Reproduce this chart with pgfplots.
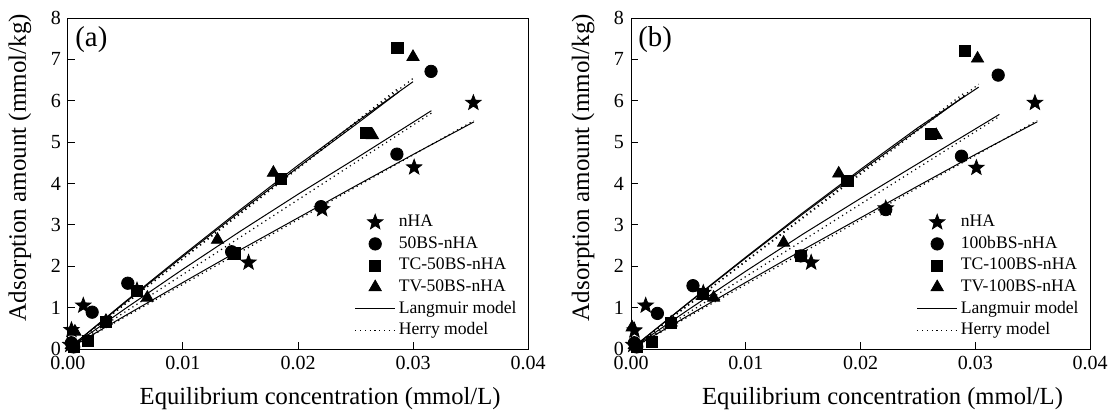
\documentclass[border=0pt]{standalone}
\usepackage{fontspec}
\setmainfont{Liberation Serif}
\usepackage{pgfplots}
\pgfplotsset{compat=1.18}

\pgfdeclareplotmark{fstar}{%
  \pgfpathmoveto{\pgfpointpolar{90}{\pgfplotmarksize}}%
  \pgfpathlineto{\pgfpointpolar{126}{0.42\pgfplotmarksize}}%
  \pgfpathlineto{\pgfpointpolar{162}{\pgfplotmarksize}}%
  \pgfpathlineto{\pgfpointpolar{198}{0.42\pgfplotmarksize}}%
  \pgfpathlineto{\pgfpointpolar{234}{\pgfplotmarksize}}%
  \pgfpathlineto{\pgfpointpolar{270}{0.42\pgfplotmarksize}}%
  \pgfpathlineto{\pgfpointpolar{306}{\pgfplotmarksize}}%
  \pgfpathlineto{\pgfpointpolar{342}{0.42\pgfplotmarksize}}%
  \pgfpathlineto{\pgfpointpolar{18}{\pgfplotmarksize}}%
  \pgfpathlineto{\pgfpointpolar{54}{0.42\pgfplotmarksize}}%
  \pgfpathclose
  \pgfusepathqfillstroke
}

\pgfplotsset{
  panel/.style={
    scale only axis,
    height=165.5pt,
    xmin=0, xmax=0.04, ymin=0, ymax=8,
    xtick={0,0.01,0.02,0.03,0.04},
    ytick={0,1,2,3,4,5,6,7,8},
    scaled x ticks=false,
    xticklabel style={/pgf/number format/.cd, fixed, fixed zerofill, precision=2},
    /pgf/number format/assume math mode=true,
    tick label style={font=\fontsize{10}{11}\selectfont},
    tick align=inside,
    xtick pos=bottom, ytick pos=left,
    major tick length=3.5pt,
    axis line style={line width=0.5pt},
    every tick/.style={black, line width=0.5pt},
    every axis y label/.style={at={(axis description cs:-0.1043,0.548)}, rotate=90, anchor=center, font=\fontsize{12.5}{14}\selectfont},
    every axis x label/.style={at={(axis description cs:0.548,-0.169)}, anchor=base, font=\fontsize{12.3}{14}\selectfont},
    xlabel={Equilibrium concentration (mmol/L)},
    ylabel={Adsorption amount (mmol/kg)},
    clip=false,
    legend image code/.code={\draw[mark repeat=2,mark phase=2,#1] plot coordinates {(0pt,0pt) (10pt,0pt) (20pt,0pt)};},
    legend style={at={(rel axis cs:1,0)}, anchor=south east, xshift=-5.5pt, yshift=5pt,
      draw=none, fill=none, inner sep=0pt, row sep=2.5pt, column sep=1.5pt,
      font=\fontsize{8.8}{10}\selectfont,
      nodes={inner sep=0pt, text height=6.3pt, text depth=2pt}},
    legend cell align=left,
  },
  pts/.style={only marks, black, fill=black},
  sstar/.style={pts, mark=fstar, mark size=4pt},
  scirc/.style={pts, mark=*, mark size=3.1pt},
  ssq/.style={pts, mark=square*, mark size=2.8pt},
  stri/.style={pts, mark=triangle*, mark size=3.5pt},
  lang/.style={black, line width=0.5pt, no marks},
  henry/.style={black, line width=0.6pt, no marks, dash pattern=on 0.6pt off 1.8pt},
}

\begin{document}
\begin{tikzpicture}
% ---------------- panel (a)
\begin{axis}[panel, width=230pt]
\addplot[sstar] coordinates {(0.0002,0.1) (0.0003,0.46) (0.00133,1.05) (0.006,1.42) (0.0157,2.09) (0.0221,3.38) (0.0301,4.39) (0.03525,5.95)};
\addlegendentry{nHA}
\addplot[scirc] coordinates {(0.0003,0.15) (0.0005,0.05) (0.0021,0.89) (0.0052,1.59) (0.01423,2.35) (0.022,3.44) (0.0286,4.71) (0.03157,6.71)};
\addlegendentry{50BS-nHA}
\addplot[ssq] coordinates {(0.0005,0.05) (0.0017,0.2) (0.0033,0.66) (0.006,1.40) (0.01447,2.31) (0.01852,4.11) (0.02588,5.23) (0.02864,7.28)};
\addlegendentry{TC-50BS-nHA}
\addplot[stri] coordinates {(0.0003,0.1) (0.0006,0.42) (0.0033,0.68) (0.0069,1.24) (0.013,2.64) (0.01786,4.26) (0.02647,5.17) (0.03,7.06)};
\addlegendentry{TV-50BS-nHA}
\addplot[lang] coordinates {(0,0) (0.005,1.15) (0.01,2.27) (0.015,3.37) (0.02,4.44) (0.025,5.47) (0.03,6.46)};
\addlegendentry{Langmuir model}
\addplot[lang, forget plot] coordinates {(0,0) (0.005,1.13) (0.01,2.24) (0.015,3.33) (0.02,4.39) (0.025,5.42) (0.0288,6.22)};
\addplot[lang, forget plot] coordinates {(0,0) (0.005,0.98) (0.01,1.93) (0.015,2.85) (0.02,3.74) (0.025,4.60) (0.0316,5.76)};
\addplot[lang, forget plot] coordinates {(0,0) (0.005,0.81) (0.01,1.61) (0.015,2.40) (0.02,3.17) (0.025,3.94) (0.03,4.70) (0.0353,5.49)};
\addplot[henry] coordinates {(0,0) (0.03,6.54)};
\addlegendentry{Herry model}
\addplot[henry, forget plot] coordinates {(0,0) (0.0288,6.32)};
\addplot[henry, forget plot] coordinates {(0,0) (0.0316,5.70)};
\addplot[henry, forget plot] coordinates {(0,0) (0.0353,5.52)};
\node[anchor=base west, inner sep=0pt, font=\fontsize{14.4}{16}\selectfont] at (axis description cs:0.0152,0.9136) {(a)};
\end{axis}
% ---------------- panel (b)
\begin{axis}[panel, width=229.5pt, at={(281.5pt,0pt)}]
\addplot[sstar] coordinates {(0.0002,0.1) (0.0003,0.45) (0.00128,1.05) (0.0063,1.36) (0.0157,2.09) (0.0222,3.4) (0.0301,4.38) (0.0352,5.95)};
\addlegendentry{nHA}
\addplot[scirc] coordinates {(0.0003,0.15) (0.0005,0.05) (0.0023,0.86) (0.0054,1.53) (0.0148,2.25) (0.0222,3.37) (0.0288,4.66) (0.0320,6.62)};
\addlegendentry{100bBS-nHA}
\addplot[ssq] coordinates {(0.0005,0.05) (0.0018,0.18) (0.0035,0.64) (0.0063,1.34) (0.0148,2.25) (0.01885,4.06) (0.0261,5.19) (0.0291,7.2)};
\addlegendentry{TC-100BS-nHA}
\addplot[stri] coordinates {(0.0001,0.52) (0.0003,0.1) (0.0035,0.64) (0.0072,1.24) (0.0133,2.57) (0.0181,4.24) (0.0266,5.17) (0.0302,7.02)};
\addlegendentry{TV-100BS-nHA}
\addplot[lang] coordinates {(0,0) (0.005,1.12) (0.01,2.22) (0.015,3.30) (0.02,4.34) (0.025,5.35) (0.0303,6.33)};
\addlegendentry{Langmuir model}
\addplot[lang, forget plot] coordinates {(0,0) (0.005,1.11) (0.01,2.20) (0.015,3.27) (0.02,4.30) (0.025,5.30) (0.0291,6.12)};
\addplot[lang, forget plot] coordinates {(0,0) (0.005,0.95) (0.01,1.88) (0.015,2.78) (0.02,3.64) (0.025,4.48) (0.0321,5.67)};
\addplot[lang, forget plot] coordinates {(0,0) (0.005,0.81) (0.01,1.61) (0.015,2.40) (0.02,3.17) (0.025,3.94) (0.03,4.70) (0.0354,5.49)};
\addplot[henry] coordinates {(0,0) (0.0303,6.40)};
\addlegendentry{Herry model}
\addplot[henry, forget plot] coordinates {(0,0) (0.0291,6.20)};
\addplot[henry, forget plot] coordinates {(0,0) (0.0321,5.62)};
\addplot[henry, forget plot] coordinates {(0,0) (0.0354,5.52)};
\node[anchor=base west, inner sep=0pt, font=\fontsize{14.4}{16}\selectfont] at (axis description cs:0.0152,0.9136) {(b)};
\end{axis}
\pgfresetboundingbox
\path (-34pt,-31.5pt) rectangle (522.5pt,174.5pt);
\end{tikzpicture}
\end{document}
